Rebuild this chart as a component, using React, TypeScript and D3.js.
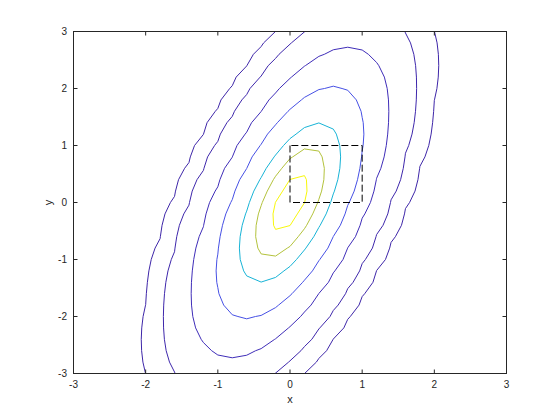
import React from "react";
import * as d3 from "d3";

// Bivariate normal: mvnpdf over a 0.2-spaced grid on [-3,3]x[-3,3]
const MU = [0, 0];
const SIGMA = [
  [0.25, 0.3],
  [0.3, 1],
];
const GRID_X = d3.range(0, 31).map((i) => +(-3 + i * 0.2).toFixed(1));
const GRID_Y = d3.range(0, 31).map((i) => +(-3 + i * 0.2).toFixed(1));
const LEVELS = [0.0001, 0.001, 0.01, 0.05, 0.15, 0.25, 0.35];
const LEVEL_COLORS = ["#3e26a8", "#3e27ab", "#3f2db8", "#4650e4", "#17b3d6", "#b3c23c", "#f8f80a"];
const X_TICKS = [-3, -2, -1, 0, 1, 2, 3];
const Y_TICKS = [-3, -2, -1, 0, 1, 2, 3];
const SQUARE_X = [0, 0, 1, 1, 0];
const SQUARE_Y = [1, 0, 0, 1, 1];

const W = 560;
const H = 420;
const LEFT = 73.5;
const RIGHT = 506.5;
const TOP = 31.5;
const BOTTOM = 373.5;

function mvnpdf(x: number, y: number) {
  const a = SIGMA[0][0], b = SIGMA[0][1], c = SIGMA[1][0], d = SIGMA[1][1];
  const det = a * d - b * c;
  const dx = x - MU[0], dy = y - MU[1];
  const q = (d * dx * dx - (b + c) * dx * dy + a * dy * dy) / det;
  return Math.exp(-0.5 * q) / (2 * Math.PI * Math.sqrt(det));
}

export default function App() {
  const xs = d3.scaleLinear().domain([-3, 3]).range([LEFT, RIGHT]);
  const ys = d3.scaleLinear().domain([-3, 3]).range([BOTTOM, TOP]);
  const nx = GRID_X.length, ny = GRID_Y.length;
  const values: number[] = [];
  for (let j = 0; j < ny; j++) for (let i = 0; i < nx; i++) values.push(mvnpdf(GRID_X[i], GRID_Y[j]));
  const step = GRID_X[1] - GRID_X[0];
  const contours = d3.contours().size([nx, ny]).thresholds(LEVELS)(values);
  const proj = d3.geoTransform({
    point(this: any, px: number, py: number) {
      this.stream.point(xs(GRID_X[0] + (px - 0.5) * step), ys(GRID_Y[0] + (py - 0.5) * step));
    },
  });
  const path = d3.geoPath(proj);
  const sq = d3.line<number>().x((_, i) => xs(SQUARE_X[i])).y((_, i) => ys(SQUARE_Y[i]))(SQUARE_X.map((v) => v));
  const axisColor = "#262626";
  const font = "'Liberation Sans', Arial, sans-serif";
  return (
    <svg width={W} height={H} style={{ position: "absolute", left: 0, top: 0, background: "#fff" }}>
      <defs>
        <clipPath id="plotclip">
          <rect x={LEFT} y={TOP} width={RIGHT - LEFT} height={BOTTOM - TOP} />
        </clipPath>
      </defs>
      <rect x={0} y={0} width={W} height={H} fill="#fff" />
      <g clipPath="url(#plotclip)">
        {contours.map((c, k) => (
          <path
            key={k}
            d={path(c as any) || ""}
            fill="none"
            stroke={LEVEL_COLORS[LEVELS.indexOf(c.value)]}
            strokeWidth={1}
          />
        ))}
        <path d={sq || ""} fill="none" stroke="#000" strokeWidth={1} strokeDasharray="7,3" />
      </g>
      <rect x={LEFT} y={TOP} width={RIGHT - LEFT} height={BOTTOM - TOP} fill="none" stroke={axisColor} strokeWidth={1} />
      {X_TICKS.map((t) => (
        <g key={"x" + t}>
          <line x1={xs(t)} x2={xs(t)} y1={BOTTOM} y2={BOTTOM - 4} stroke={axisColor} />
          <line x1={xs(t)} x2={xs(t)} y1={TOP} y2={TOP + 4} stroke={axisColor} />
          <text x={xs(t)} y={388} textAnchor="middle" fontSize={10} fontFamily={font} fill={axisColor}>
            {t}
          </text>
        </g>
      ))}
      {Y_TICKS.map((t) => (
        <g key={"y" + t}>
          <line x1={LEFT} x2={LEFT + 4} y1={ys(t)} y2={ys(t)} stroke={axisColor} />
          <line x1={RIGHT} x2={RIGHT - 4} y1={ys(t)} y2={ys(t)} stroke={axisColor} />
          <text x={67} y={ys(t)} dy="0.35em" textAnchor="end" fontSize={10} fontFamily={font} fill={axisColor}>
            {t}
          </text>
        </g>
      ))}
      <text x={(LEFT + RIGHT) / 2} y={403} textAnchor="middle" fontSize={11} fontFamily={font} fill={axisColor}>
        x
      </text>
      <text
        transform={`translate(52,${(TOP + BOTTOM) / 2}) rotate(-90)`}
        textAnchor="middle"
        fontSize={11}
        fontFamily={font}
        fill={axisColor}
      >
        y
      </text>
    </svg>
  );
}
